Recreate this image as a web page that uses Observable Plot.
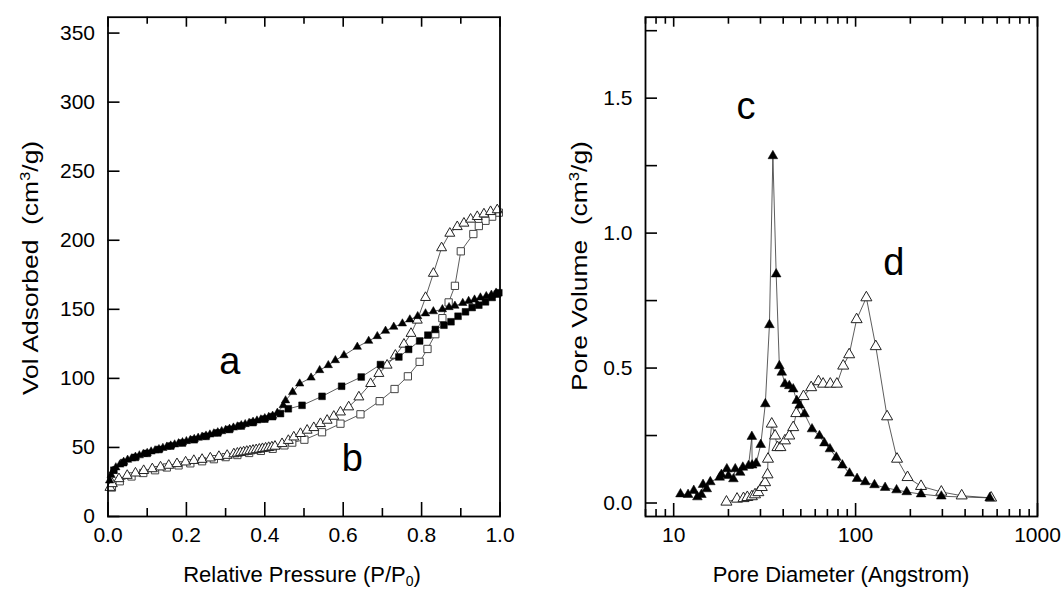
<!DOCTYPE html>
<html>
<head>
<meta charset="utf-8">
<script src="https://cdn.jsdelivr.net/npm/d3@7"></script>
<script src="https://cdn.jsdelivr.net/npm/@observablehq/plot@0.6"></script>
<style>
  body { margin: 0; background: #fff; }
  #wrap { position: relative; width: 1064px; height: 592px; overflow: hidden; }
  .panel { position: absolute; top: 0; }
  text { white-space: pre; }
</style>
</head>
<body>
<div id="wrap">
  <div id="left" class="panel" style="left:0px"></div>
  <div id="right" class="panel" style="left:532px"></div>
</div>
<script>
// ---------------- DATA ----------------
// Left panel: N2 isotherms, [relative pressure, volume adsorbed cm3/g]
const aAdsorption = [ // filled triangles (sample a, adsorption)
  [0.004,26],[0.008,30],[0.013,33],[0.02,35.5],[0.03,37.5],[0.04,39.5],[0.05,41],[0.06,42],
  [0.07,43.2],[0.08,44.2],[0.09,45.2],[0.10,46],[0.11,47],[0.12,47.8],[0.13,48.7],[0.14,49.6],
  [0.15,50.5],[0.16,51.3],[0.17,52.1],[0.18,52.9],[0.19,53.7],[0.20,54.5],[0.21,55.3],[0.22,56.1],
  [0.23,56.9],[0.24,57.7],[0.25,58.5],[0.26,59.3],[0.27,60.1],[0.28,60.9],[0.29,61.7],[0.30,62.6],
  [0.31,63.4],[0.32,64.3],[0.33,65.1],[0.34,66],[0.35,66.8],[0.36,67.7],[0.37,68.5],[0.38,69.4],
  [0.39,70.2],[0.40,71.1],[0.41,72],[0.42,72.9],[0.432,75],[0.447,80.5],[0.453,84],[0.471,90],
  [0.489,96.2],[0.518,100.5],[0.540,105.9],[0.562,109.5],[0.580,113.1],[0.602,116.7],[0.636,122.8],
  [0.665,127.1],[0.687,130.5],[0.708,134.4],[0.729,137.3],[0.751,139.7],[0.770,142.6],[0.790,145],
  [0.810,147],[0.830,148.5],[0.853,150],[0.870,151.5],[0.885,152.5],[0.905,154.5],[0.920,156],
  [0.935,157],[0.950,158.5],[0.965,159.5],[0.978,160.5],[0.990,162]
];
const aDesorption = [ // filled squares (sample a, desorption)
  [0.997,162],[0.993,161],[0.980,158.6],[0.963,155.4],[0.946,153],[0.929,151.3],[0.912,148.2],
  [0.893,145],[0.875,141],[0.857,138.5],[0.835,135.4],[0.816,131.3],[0.795,127.1],[0.767,121],
  [0.742,115.5],[0.695,110],[0.646,101],[0.596,94.3],[0.546,87],[0.495,80.5],[0.460,78],
  [0.440,74.5],[0.420,72.3],[0.400,70.5],[0.370,68],[0.340,65.5],[0.310,63],[0.280,60.5],
  [0.250,58],[0.220,55.6],[0.190,53.2],[0.160,51],[0.130,48.5],[0.100,45.7],[0.070,42.8],
  [0.040,39],[0.015,33.5]
];
const bAdsorption = [ // open triangles (sample b, adsorption)
  [0.005,21],[0.011,23.7],[0.028,27.3],[0.049,29.7],[0.070,31.4],[0.091,33.2],[0.113,34.5],
  [0.134,35.8],[0.155,37],[0.176,38.2],[0.198,39.4],[0.219,40.5],[0.240,41.3],[0.261,42.3],
  [0.283,43.4],[0.304,44.2],[0.321,45.3],[0.330,45.8],[0.338,46.3],[0.346,46.7],[0.354,47.1],
  [0.362,47.5],[0.370,47.9],[0.378,48.3],[0.386,48.7],[0.394,49.1],[0.402,49.5],[0.410,49.9],
  [0.418,50.3],[0.426,50.8],[0.444,52.7],[0.460,55],[0.474,57.5],[0.491,60],[0.508,62.4],
  [0.525,64.3],[0.542,67.2],[0.559,69.6],[0.576,72.5],[0.593,75.6],[0.614,79.3],[0.640,86.5],
  [0.670,96.2],[0.691,103.5],[0.712,109.5],[0.733,116.7],[0.755,124.7],[0.773,132.5],
  [0.789,142.1],[0.810,158.5],[0.830,176],[0.851,194.5],[0.872,205],[0.891,209.8],[0.908,212.3],
  [0.925,215.2],[0.942,217.1],[0.959,219],[0.976,220.7],[0.993,222]
];
const bDesorption = [ // open squares (sample b, desorption)
  [0.997,220],[0.980,217.1],[0.963,214.1],[0.946,210.3],[0.932,204.5],[0.900,192],[0.885,167],
  [0.869,155],[0.853,143.6],[0.835,132],[0.815,121.3],[0.795,112],[0.765,101.5],[0.731,92.3],
  [0.693,83.5],[0.644,74],[0.593,67.2],[0.546,61],[0.501,55.6],[0.470,53.5],[0.450,51.5],
  [0.420,49],[0.390,47.5],[0.360,46],[0.330,44.5],[0.300,43],[0.270,41.5],[0.240,40],
  [0.210,38.5],[0.180,37],[0.150,35.5],[0.120,33.5],[0.090,31.5],[0.060,29],[0.030,25.5],[0.010,21]
];

// Right panel: pore size distributions, [pore diameter Å, pore volume cm3/g]
const cPSD = [ // filled triangles
  [10.9,0.033],[12.0,0.031],[12.9,0.046],[13.5,0.022],[14.2,0.031],[14.5,0.068],[15.2,0.052],
  [15.9,0.078],[17.9,0.095],[18.3,0.105],[19.6,0.126],[20.0,0.101],[21.3,0.089],[21.8,0.126],
  [23.2,0.113],[24.0,0.132],[25.8,0.138],[26.9,0.246],[27.0,0.14],[28.4,0.147],[30.1,0.216],
  [31.9,0.367],[33.6,0.66],[35.1,1.286],[36.6,0.848],[38.1,0.508],[39.3,0.484],[40.9,0.441],
  [43.2,0.434],[45.4,0.422],[47.5,0.379],[49.3,0.362],[52.4,0.330],[57.6,0.274],[63.3,0.249],
  [67.4,0.222],[72.3,0.200],[78.3,0.169],[84.6,0.140],[92.6,0.110],[101.9,0.090],[113,0.078],
  [127,0.067],[145.3,0.057],[168,0.048],[191,0.041],[229,0.033],[296,0.025],[546,0.019]
];
const dPSD = [ // open triangles
  [19.5,0.004],[22.3,0.015],[24.2,0.017],[25.4,0.021],[26.9,0.024],[28.0,0.031],[29.2,0.039],
  [30.5,0.058],[31.8,0.076],[32.8,0.105],[33.0,0.163],[34.6,0.293],[36.1,0.249],[37.2,0.206],
  [38.6,0.206],[40.9,0.231],[43.2,0.249],[45.4,0.280],[47.2,0.332],[51.7,0.395],[57.0,0.428],
  [62.5,0.450],[66.3,0.441],[72.6,0.441],[78.9,0.441],[85.5,0.508],[92.2,0.550],[101.3,0.680],
  [114.6,0.761],[129.1,0.580],[149,0.320],[169,0.163],[193,0.095],[229,0.062],[296,0.041],
  [383,0.027],[556,0.019]
];

// Tick values and panel letters
const pLabelTicks = [0, 0.2, 0.4, 0.6, 0.8, 1.0];
const pMinorTicks = [0.1, 0.3, 0.5, 0.7, 0.9];
const vTicks = [0, 50, 100, 150, 200, 250, 300, 350];
const dMajorTicks = [10, 100, 1000];
const dMinorTicks = [7, 8, 9, 20, 30, 40, 50, 60, 70, 80, 90, 200, 300, 400, 500, 600, 700, 800, 900];
const pvLabelTicks = [0, 0.5, 1.0, 1.5];
const pvAllTicks = [0, 0.25, 0.5, 0.75, 1.0, 1.25, 1.5, 1.75];
const leftLetters = [{x: 0.311, y: 112.2, t: "a"}, {x: 0.623, y: 41.8, t: "b"}];
const rightLetters = [{x: 25.0, y: 1.467, t: "c"}, {x: 162, y: 0.891, t: "d"}];

// ---------------- LAYOUT ----------------
const FONT = "'Liberation Sans', Arial, Helvetica, sans-serif";
const W = 532, H = 592, MT = 16.7, MB = 76;
const innerH = H - MT - MB;
const innerW = 392;
const px = d => d[0], py = d => d[1];

function ticksIn(kind, values, lenBottom, lenTop) {
  return kind === "x" ? [
    Plot.ruleX(values, {x: d => d, insetTop: innerH - lenBottom, stroke: "black", strokeWidth: 1.6}),
    Plot.ruleX(values, {x: d => d, insetBottom: innerH - lenTop, stroke: "black", strokeWidth: 1.6})
  ] : [
    Plot.ruleY(values, {y: d => d, insetRight: innerW - lenBottom, stroke: "black", strokeWidth: 1.6})
  ];
}

const left = Plot.plot({
  width: W, height: H,
  marginLeft: 107.5, marginRight: 32.5, marginTop: MT, marginBottom: MB,
  style: {fontFamily: FONT, fontSize: "21px", color: "#000", background: "#fff", overflow: "visible"},
  x: {domain: [0, 1]},
  y: {domain: [0, 361.5]},
  marks: [
    Plot.axisX(pLabelTicks, {tickSize: 0, tickPadding: 11, tickFormat: d => d.toFixed(1), label: null}),
    Plot.axisY(vTicks, {tickSize: 0, tickPadding: 13, label: null}),
    ...ticksIn("x", pLabelTicks, 14, 10),
    ...ticksIn("x", pMinorTicks, 8, 7),
    ...ticksIn("y", vTicks, 12),
    Plot.line(bDesorption, {x: px, y: py, stroke: "#333", strokeWidth: 0.8}),
    Plot.line(bAdsorption, {x: px, y: py, stroke: "#333", strokeWidth: 0.8}),
    Plot.line(aDesorption, {x: px, y: py, stroke: "#333", strokeWidth: 0.8}),
    Plot.line(aAdsorption, {x: px, y: py, stroke: "#333", strokeWidth: 0.8}),
    Plot.dot(bDesorption, {x: px, y: py, symbol: "square", r: 4.1, fill: "white", stroke: "#444", strokeWidth: 1}),
    Plot.dot(bAdsorption, {x: px, y: py, symbol: "triangle", r: 3.7, fill: "white", stroke: "#222", strokeWidth: 1}),
    Plot.dot(aDesorption, {x: px, y: py, symbol: "square", r: 3.8, fill: "black", stroke: "black", strokeWidth: 0.5}),
    Plot.dot(aAdsorption, {x: px, y: py, symbol: "triangle", r: 3.1, fill: "black", stroke: "black", strokeWidth: 0.5}),
    Plot.text(leftLetters, {x: "x", y: "y", text: "t", fontSize: 38, fill: "black"}),
    Plot.frame({stroke: "black", strokeWidth: 1.8})
  ]
});

const right = Plot.plot({
  width: W, height: H,
  marginLeft: 113, marginRight: 27, marginTop: MT, marginBottom: MB,
  style: {fontFamily: FONT, fontSize: "21px", color: "#000", background: "#fff", overflow: "visible"},
  x: {type: "log", domain: [7, 1000]},
  y: {domain: [-0.05, 1.8]},
  marks: [
    Plot.axisX(dMajorTicks, {tickSize: 0, tickPadding: 11, tickFormat: d => String(d), label: null}),
    Plot.axisY(pvLabelTicks, {tickSize: 0, tickPadding: 13, tickFormat: d => d.toFixed(1), label: null}),
    ...ticksIn("x", dMajorTicks, 13, 10),
    ...ticksIn("x", dMinorTicks, 7, 7),
    ...ticksIn("y", pvAllTicks, 12),
    Plot.line(dPSD, {x: px, y: py, stroke: "#333", strokeWidth: 0.8}),
    Plot.line(cPSD, {x: px, y: py, stroke: "#333", strokeWidth: 0.8}),
    Plot.dot(dPSD, {x: px, y: py, symbol: "triangle", r: 4.1, fill: "white", stroke: "#222", strokeWidth: 1}),
    Plot.dot(cPSD, {x: px, y: py, symbol: "triangle", r: 3.6, fill: "black", stroke: "black", strokeWidth: 0.5}),
    Plot.text(rightLetters, {x: "x", y: "y", text: "t", fontSize: 38, fill: "black"}),
    Plot.frame({stroke: "black", strokeWidth: 1.8})
  ]
});

document.getElementById("left").appendChild(left);
document.getElementById("right").appendChild(right);

// ---------------- AXIS TITLES (with super/subscripts) ----------------
function title(svg, x, y, rotate, stretch, parts) {
  const t = d3.select(svg).append("text")
    .attr("transform", `translate(${x},${y}) rotate(${rotate}) scale(${stretch},1)`)
    .attr("text-anchor", "middle")
    .attr("font-family", FONT)
    .attr("font-size", 22)
    .attr("fill", "black");
  parts.forEach(([s, dy, size]) => {
    const sp = t.append("tspan").text(s);
    if (dy) sp.attr("dy", dy);
    if (size) sp.attr("font-size", size);
  });
}
title(left, 302, 582, 0, 1, [["Relative Pressure (P/P"], ["0", 4, 14], [")", -4]]);
title(left, 38, 268, -90, 1.2, [["Vol Adsorbed  (cm"], ["3", -8, 14], ["/g)", 8]]);
title(right, 309, 582, 0, 1, [["Pore Diameter (Angstrom)"]]);
title(right, 55, 266, -90, 1.2, [["Pore Volume  (cm"], ["3", -8, 14], ["/g)", 8]]);
</script>
</body>
</html>
